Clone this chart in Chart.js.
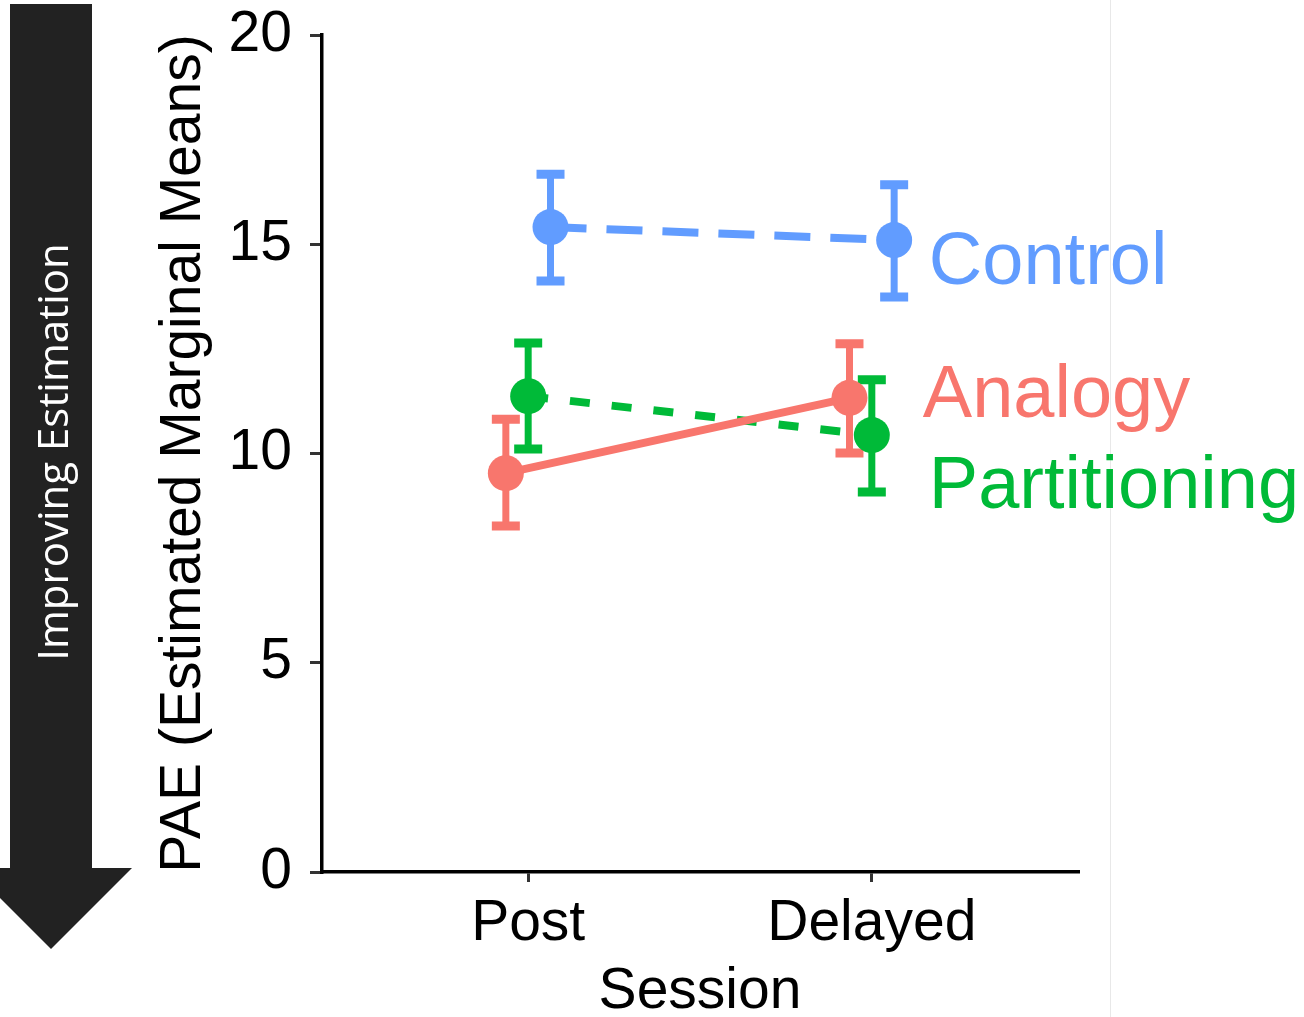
<!DOCTYPE html>
<html>
<head>
<meta charset="utf-8">
<script src="https://cdn.jsdelivr.net/npm/chart.js@4"></script>
<style>
  html, body { margin: 0; padding: 0; background: #fff; }
</style>
</head>
<body>
<canvas id="chart" width="1304" height="1017"></canvas>
<script>
// Data
const sessions = ['Post', 'Delayed'];
const groups = ['Control', 'Analogy', 'Partitioning'];
const colors = ['#619CFF', '#F8766D', '#00BA38'];

const controlMean = [15.41, 15.10];
const controlLow = [14.12, 13.74];
const controlHigh = [16.67, 16.42];

const analogyMean = [9.53, 11.33];
const analogyLow = [8.27, 10.01];
const analogyHigh = [10.82, 12.62];

const partMean = [11.37, 10.44];
const partLow = [10.11, 9.08];
const partHigh = [12.64, 11.76];

const yTicks = [0, 5, 10, 15, 20];

// dodge offsets (x units) per group, and line dash per group
const dodge = [0.065, -0.065, 0];
const dashes = [[36, 20], [], [20, 22]];

const means = [controlMean, analogyMean, partMean];
const lows = [controlLow, analogyLow, partLow];
const highs = [controlHigh, analogyHigh, partHigh];

const FONT = "'Liberation Sans', Arial, sans-serif";

function points(g) {
  return means[g].map((v, i) => ({ x: i + 1 + dodge[g], y: v }));
}

const datasets = groups.map((name, g) => ({
  label: name,
  data: points(g),
  borderColor: colors[g],
  backgroundColor: colors[g],
  borderWidth: 8,
  borderDash: dashes[g],
  pointRadius: 18,
  pointHoverRadius: 18,
  pointBorderWidth: 0,
  pointBackgroundColor: colors[g],
  tension: 0
}));

// Arrow on the left, faint frame line, error bars and group labels
const decor = {
  id: 'decor',
  beforeDraw(chart) {
    const c = chart.ctx;
    c.save();
    c.fillStyle = '#222';
    c.fillRect(10, 4, 82, 864);
    c.beginPath();
    c.moveTo(-30, 868);
    c.lineTo(132, 868);
    c.lineTo(51, 949);
    c.closePath();
    c.fill();
    c.translate(68, 452);
    c.rotate(-Math.PI / 2);
    c.fillStyle = '#fff';
    c.font = "42px 'Open Sans', sans-serif";
    c.textAlign = 'center';
    c.textBaseline = 'alphabetic';
    c.fillText('Improving Estimation', 0, 0);
    c.restore();

    c.save();
    c.strokeStyle = '#e8e8e8';
    c.lineWidth = 1;
    c.beginPath();
    c.moveTo(1110.5, 0);
    c.lineTo(1110.5, 1017);
    c.stroke();
    c.restore();
  },
  beforeDatasetsDraw(chart) {
    const c = chart.ctx;
    const xs = chart.scales.x, ys = chart.scales.y;
    c.save();
    for (let g = groups.length - 1; g >= 0; g--) {
      c.strokeStyle = colors[g];
      c.lineCap = 'butt';
      means[g].forEach((m, i) => {
        const x = xs.getPixelForValue(i + 1 + dodge[g]);
        const top = ys.getPixelForValue(highs[g][i]);
        const bot = ys.getPixelForValue(lows[g][i]);
        c.lineWidth = 7;
        c.beginPath();
        c.moveTo(x, top);
        c.lineTo(x, bot);
        c.stroke();
        c.lineWidth = 9;
        c.beginPath();
        c.moveTo(x - 14, top);
        c.lineTo(x + 14, top);
        c.moveTo(x - 14, bot);
        c.lineTo(x + 14, bot);
        c.stroke();
      });
    }
    c.restore();
  },
  afterDraw(chart) {
    const c = chart.ctx;
    const xs = chart.scales.x, ys = chart.scales.y;
    const labelY = [14.05, 10.87, 8.70];
    const labelDx = [57, 51, 57];
    const x0 = xs.getPixelForValue(2);
    c.save();
    c.font = '74px ' + FONT;
    c.textAlign = 'left';
    c.textBaseline = 'alphabetic';
    groups.forEach((name, g) => {
      c.fillStyle = colors[g];
      c.fillText(name, x0 + labelDx[g], ys.getPixelForValue(labelY[g]));
    });
    c.restore();
  }
};

new Chart(document.getElementById('chart'), {
  type: 'line',
  data: { datasets },
  plugins: [decor],
  options: {
    responsive: false,
    animation: false,
    events: [],
    layout: { padding: { left: 150, right: 226, top: 35, bottom: 0 } },
    plugins: { legend: { display: false }, tooltip: { enabled: false } },
    scales: {
      x: {
        type: 'linear',
        min: 0.4,
        max: 2.6,
        afterBuildTicks: s => { s.ticks = sessions.map((_, i) => ({ value: i + 1 })); },
        afterFit: s => { s.height = 145; },
        ticks: {
          callback: v => sessions[v - 1],
          color: '#000',
          font: { family: FONT, size: 57 },
          padding: 8,
          maxRotation: 0,
          autoSkip: false
        },
        grid: { drawOnChartArea: false, drawTicks: true, tickLength: 10, color: '#333', lineWidth: 3 },
        border: { display: true, color: '#000', width: 3.5 },
        title: {
          display: true,
          text: 'Session',
          color: '#000',
          font: { family: FONT, size: 57, lineHeight: 0.85 },
          padding: 0
        }
      },
      y: {
        min: 0,
        max: 20,
        afterBuildTicks: s => { s.ticks = yTicks.map(v => ({ value: v })); },
        afterFit: s => { s.width = 172; },
        ticks: {
          color: '#000',
          font: { family: FONT, size: 57, lineHeight: 0.5 },
          padding: 18
        },
        grid: { drawOnChartArea: false, drawTicks: true, tickLength: 12, color: '#333', lineWidth: 3 },
        border: { display: true, color: '#000', width: 3.5 },
        title: {
          display: true,
          text: 'PAE (Estimated Marginal Means)',
          color: '#000',
          font: { family: FONT, size: 57, lineHeight: 1.2 },
          padding: 0
        }
      }
    }
  }
});
</script>
</body>
</html>
